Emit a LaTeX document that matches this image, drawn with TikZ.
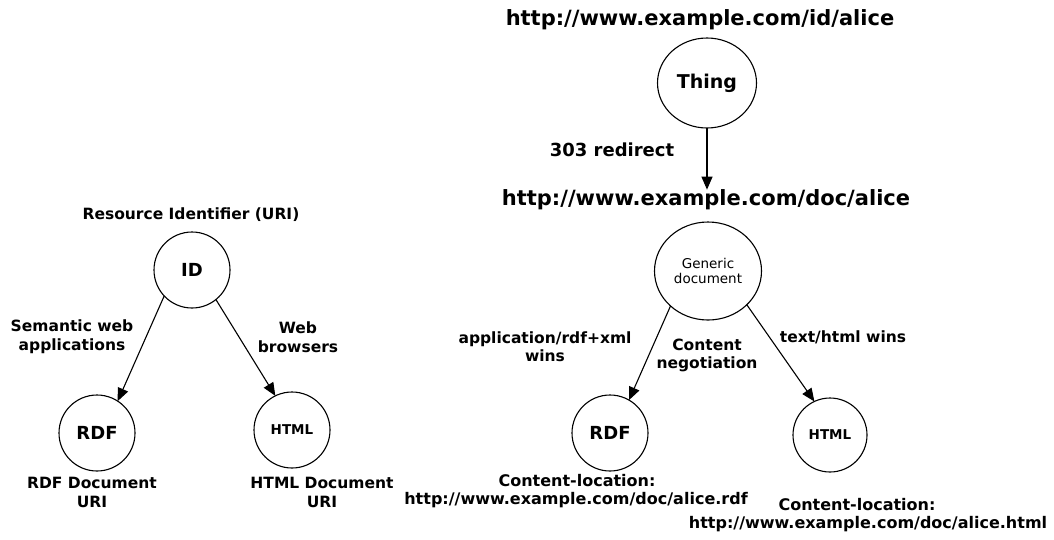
\documentclass[tikz,border=0pt]{standalone}
\usepackage{fontspec}
\setmainfont{DejaVu Sans}
\usetikzlibrary{shapes.geometric, arrows.meta, positioning}
\tikzset{
ring/.style = {%
    circle, draw, minimum size=#1,
    inner sep=0pt, outer sep=0pt, line width=1.1pt},
    ring/.default = 76pt % diameter of a resource circle
}
\tikzset{
oval/.style 2 args = {%
    ellipse, draw, minimum width=#1, minimum height=#2,
    inner sep=0pt, outer sep=0pt, line width=1.1pt}
}
\tikzset{
big/.style   = {font=\bfseries\fontsize{21}{22}\selectfont, inner sep=0pt},
lbl/.style   = {font=\bfseries\fontsize{15.5}{19}\selectfont, align=center, inner sep=0pt},
small/.style = {font=\fontsize{13.5}{15}\selectfont, align=center, inner sep=0pt}
}

\begin{document}
\begin{tikzpicture}[%
        x=1pt, y=-1pt,
        every edge/.style = {draw, -{Triangle[length=13pt,width=11pt]}, line width=1.1pt}
    ]
        \useasboundingbox (0,0) rectangle (1054,539);

        % Left: one identifier, two documents
        \node[ring, font=\bfseries\fontsize{18}{20}\selectfont] at (192,270) (ID)    {ID};
        \node[ring, font=\bfseries\fontsize{18}{20}\selectfont] at (97,433)  (RDF1)  {RDF};
        \node[ring, font=\bfseries\fontsize{13.5}{14}\selectfont] at (292,430) (HTML1) {HTML};

        \node[lbl] at (191,215) (uri)      {Resource Identifier (URI)};
        \node[lbl] at (72,337)  (semweb)   {Semantic web\\applications};
        \node[lbl] at (298,337) (browsers) {Web\\browsers};
        \node[lbl] at (92,492)  (rdfdoc)   {RDF Document\\URI};
        \node[lbl] at (322,492) (htmldoc)  {HTML Document\\URI};

        \draw (ID.223) edge (RDF1.57);
        \draw (ID.309) edge (HTML1.116);

        % Right: 303 redirect and content negotiation
        \node[big] at (700,20)  (idurl)  {http://www.example.com/id/alice};
        \node[oval={99pt}{90pt}, font=\bfseries\fontsize{19}{20}\selectfont] at (707,83) (Thing) {Thing};
        \node[lbl, font=\bfseries\fontsize{18}{20}\selectfont] at (612,150) (redirect) {303 redirect};
        \node[big] at (706,200) (docurl) {http://www.example.com/doc/alice};
        \coordinate (redirtip) at (Thing.south |- docurl.north);

        \draw (Thing.south) edge (redirtip);

        \node[oval={107pt}{98pt}, small] at (708,271) (Generic) {Generic\\document};
        \node[ring, font=\bfseries\fontsize{18}{20}\selectfont] at (610,433) (RDF2)  {RDF};
        \node[ring=74pt, font=\bfseries\fontsize{13.5}{14}\selectfont] at (830,435) (HTML2) {HTML};

        \node[lbl, font=\bfseries\fontsize{15.5}{18}\selectfont] at (545,347) (rdfwins) {application/rdf+xml\\wins};
        \node[lbl, font=\bfseries\fontsize{15.5}{18}\selectfont] at (707,355) (negot)   {Content\\negotiation};
        \node[lbl] at (843,337) (htmlwins) {text/html wins};

        \draw (Generic.223) edge (RDF2.60);
        \draw (Generic.319) edge (HTML2.115);

        % Content locations
        \node[lbl, font=\bfseries\fontsize{16}{18}\selectfont] at (577,481) (rdfloc)  {Content-location:};
        \node[lbl, font=\bfseries\fontsize{16}{18}\selectfont] at (576,500) (rdfurl)  {http://www.example.com/doc/alice.rdf};
        \node[lbl, font=\bfseries\fontsize{16}{18}\selectfont] at (857,505) (htmlloc) {Content-location:};
        \node[lbl, font=\bfseries\fontsize{16}{18}\selectfont] at (868,524) (htmlurl) {http://www.example.com/doc/alice.html};

    \end{tikzpicture}
\end{document}
